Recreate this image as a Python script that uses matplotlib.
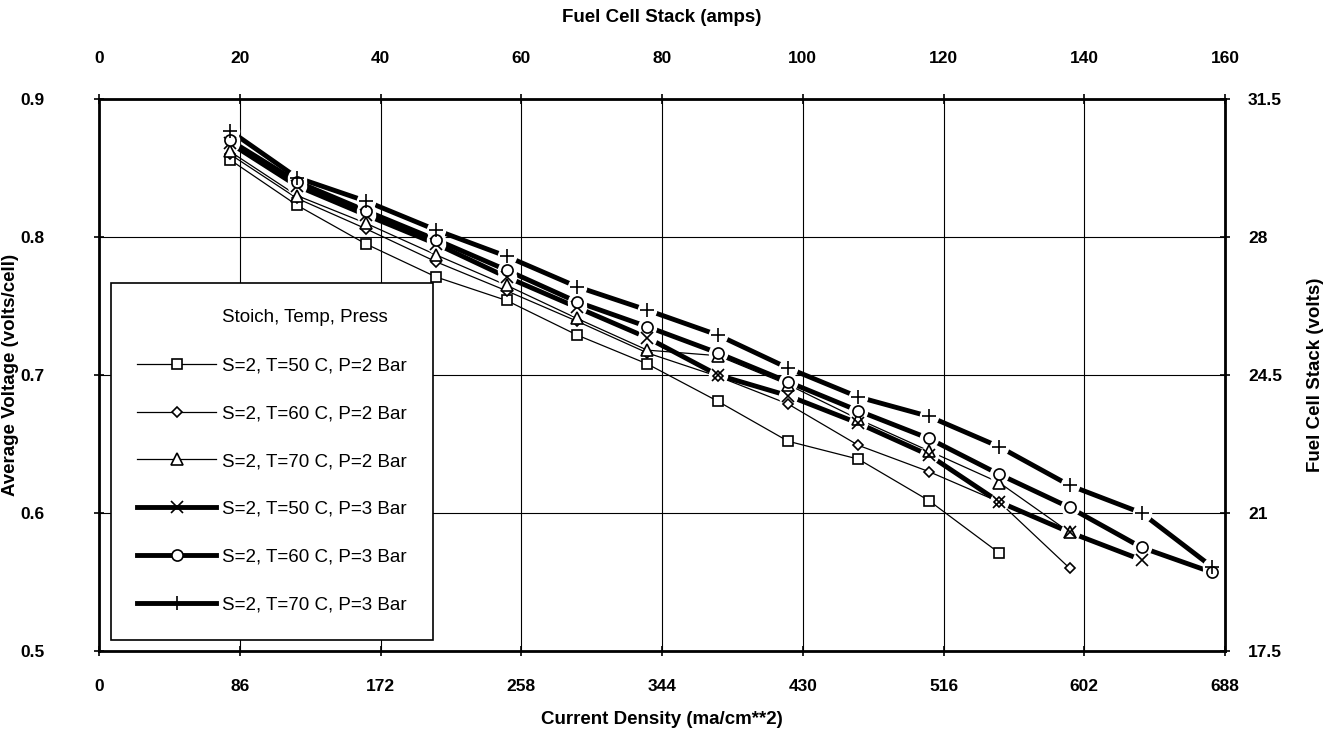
import matplotlib
matplotlib.use("Agg")
import matplotlib.pyplot as plt

plt.rcParams["font.family"] = ["Liberation Sans", "DejaVu Sans"]

# Current density (ma/cm**2) of the measured points
current_density = [80, 121, 163, 206, 249, 292, 335, 378, 421, 464, 507, 550, 593, 637, 680]

# Average cell voltage for each test condition
v_t50_p2 = [0.856, 0.823, 0.795, 0.771, 0.754, 0.729, 0.708, 0.681, 0.652, 0.639, 0.609, 0.571]
v_t60_p2 = [0.860, 0.828, 0.806, 0.782, 0.761, 0.739, 0.716, 0.699, 0.679, 0.649, 0.630, 0.608, 0.560]
v_t70_p2 = [0.862, 0.830, 0.810, 0.787, 0.765, 0.741, 0.718, 0.714, 0.693, 0.668, 0.645, 0.622, 0.586]
v_t50_p3 = [0.868, 0.837, 0.816, 0.795, 0.771, 0.749, 0.727, 0.700, 0.685, 0.665, 0.642, 0.608, 0.586, 0.566]
v_t60_p3 = [0.870, 0.840, 0.819, 0.798, 0.776, 0.753, 0.735, 0.716, 0.695, 0.674, 0.654, 0.628, 0.604, 0.575, 0.557]
v_t70_p3 = [0.877, 0.843, 0.826, 0.805, 0.786, 0.764, 0.747, 0.729, 0.705, 0.684, 0.670, 0.648, 0.620, 0.600, 0.561]

labels = ["S=2, T=50 C, P=2 Bar", "S=2, T=60 C, P=2 Bar", "S=2, T=70 C, P=2 Bar",
          "S=2, T=50 C, P=3 Bar", "S=2, T=60 C, P=3 Bar", "S=2, T=70 C, P=3 Bar"]

cd_ticks = [0, 86, 172, 258, 344, 430, 516, 602, 688]
amp_ticks = [0, 20, 40, 60, 80, 100, 120, 140, 160]
volt_ticks = [0.5, 0.6, 0.7, 0.8, 0.9]
stack_ticks = [17.5, 21, 24.5, 28, 31.5]
cells = 35
cd_per_amp = 4.3

series = [v_t50_p2, v_t60_p2, v_t70_p2, v_t50_p3, v_t60_p3, v_t70_p3]
markers = ["s", "D", "^", "x", "o", "+"]
msizes = [7.5, 5.5, 8, 8.5, 8, 10]
widths = [0.9, 0.9, 0.9, 3.5, 3.5, 3.5]

fig = plt.figure(figsize=(13.29, 7.41), dpi=100)
ax = fig.add_axes([0.0745, 0.1215, 0.8473, 0.7449])

handles = [plt.Line2D([], [], ls="none")]
for vals, mk, ms, lw in zip(series, markers, msizes, widths):
    x = current_density[:len(vals)]
    ax.plot(x, vals, color="black", lw=lw, solid_capstyle="butt", zorder=2)
    if lw > 2:
        # white gap around the markers of the thick lines
        ax.plot(x, vals, ls="none", marker="o", ms=14, mfc="white", mec="none", zorder=3)
    ax.plot(x, vals, ls="none", marker=mk, ms=ms, mfc="white", mec="black",
            mew=1.2, zorder=4)
    handles.append(plt.Line2D([], [], color="black", lw=lw, marker=mk, ms=ms,
                              mfc="white", mec="black", mew=1.2))

ax.set_xlim(0, 688)
ax.set_ylim(0.5, 0.9)
ax.set_xticks(cd_ticks)
ax.set_yticks(volt_ticks)
ax.set_xticklabels([str(t) for t in cd_ticks], fontweight="bold", fontsize=12.5)
ax.set_yticklabels([f"{t:.1f}" for t in volt_ticks], fontweight="bold", fontsize=12.5)
ax.grid(True, color="black", lw=0.8)
ax.tick_params(axis="x", direction="inout", length=7, width=1.2, pad=17)
ax.tick_params(axis="y", direction="inout", length=7, width=1.2, pad=36)
for s in ax.spines.values():
    s.set_linewidth(2)

top = ax.secondary_xaxis("top", functions=(lambda c: c / cd_per_amp, lambda a: a * cd_per_amp))
top.set_xticks(amp_ticks)
top.set_xticklabels([str(t) for t in amp_ticks], fontweight="bold", fontsize=12.5)
top.tick_params(direction="inout", length=7, width=1.2, pad=20)

right = ax.secondary_yaxis("right", functions=(lambda v: v * cells, lambda s: s / cells))
right.set_yticks(stack_ticks)
right.set_yticklabels([f"{t:g}" for t in stack_ticks], fontweight="bold", fontsize=12.5)
right.tick_params(direction="inout", length=7, width=1.2, pad=13)

fig.text(0.498, 1 - 720 / 741, "Current Density (ma/cm**2)", ha="center", va="center",
         fontweight="bold", fontsize=13.5)
fig.text(0.498, 1 - 18 / 741, "Fuel Cell Stack (amps)", ha="center", va="center",
         fontweight="bold", fontsize=13.5)
fig.text(11 / 1329, 1 - 375 / 741, "Average Voltage (volts/cell)", ha="center", va="center",
         rotation=90, fontweight="bold", fontsize=13.5)
fig.text(1315 / 1329, 1 - 375 / 741, "Fuel Cell Stack (volts)", ha="center", va="center",
         rotation=90, fontweight="bold", fontsize=13.5)

leg = ax.legend(handles, ["Stoich, Temp, Press"] + labels, loc="lower left",
                bbox_to_anchor=(0.0107, 0.020), borderaxespad=0, fontsize=13.5,
                handlelength=4.2, labelspacing=1.64, borderpad=1.4, handletextpad=0.3,
                fancybox=False, framealpha=1, edgecolor="black")
leg.get_frame().set_linewidth(1.2)
leg.set_zorder(10)

fig.savefig("out.png", dpi=100)
